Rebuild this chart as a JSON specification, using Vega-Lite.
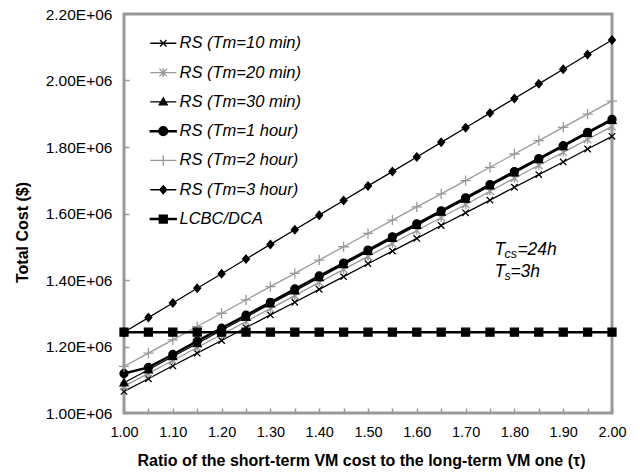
{
  "$schema": "https://vega.github.io/schema/vega-lite/v6.json",
  "width": 488,
  "height": 399,
  "autosize": {"type": "none"},
  "padding": {"left": 124, "top": 14, "right": 28, "bottom": 61},
  "config": {
    "font": "Liberation Sans",
    "view": {"stroke": "#999999", "strokeWidth": 3},
    "axis": {
      "domain": false,
      "grid": false,
      "ticks": true,
      "tickColor": "#999999",
      "tickWidth": 1.5,
      "tickSize": -5,
      "labelFont": "Liberation Sans",
      "labelColor": "#000000",
      "titleFont": "Liberation Sans",
      "titleFontSize": 16,
      "titleFontWeight": "bold",
      "titleColor": "#000000",
      "labelOverlap": false,
      "labelFlush": false,
      "labelBound": false
    }
  },
  "datasets": {
    "costs": [
      {"tau": 1.00, "series": "RS (Tm=10 min)", "cost": 1065000},
      {"tau": 1.05, "series": "RS (Tm=10 min)", "cost": 1103000},
      {"tau": 1.10, "series": "RS (Tm=10 min)", "cost": 1142000},
      {"tau": 1.15, "series": "RS (Tm=10 min)", "cost": 1180000},
      {"tau": 1.20, "series": "RS (Tm=10 min)", "cost": 1218000},
      {"tau": 1.25, "series": "RS (Tm=10 min)", "cost": 1257000},
      {"tau": 1.30, "series": "RS (Tm=10 min)", "cost": 1295000},
      {"tau": 1.35, "series": "RS (Tm=10 min)", "cost": 1333000},
      {"tau": 1.40, "series": "RS (Tm=10 min)", "cost": 1372000},
      {"tau": 1.45, "series": "RS (Tm=10 min)", "cost": 1410000},
      {"tau": 1.50, "series": "RS (Tm=10 min)", "cost": 1449000},
      {"tau": 1.55, "series": "RS (Tm=10 min)", "cost": 1487000},
      {"tau": 1.60, "series": "RS (Tm=10 min)", "cost": 1525000},
      {"tau": 1.65, "series": "RS (Tm=10 min)", "cost": 1564000},
      {"tau": 1.70, "series": "RS (Tm=10 min)", "cost": 1602000},
      {"tau": 1.75, "series": "RS (Tm=10 min)", "cost": 1640000},
      {"tau": 1.80, "series": "RS (Tm=10 min)", "cost": 1679000},
      {"tau": 1.85, "series": "RS (Tm=10 min)", "cost": 1717000},
      {"tau": 1.90, "series": "RS (Tm=10 min)", "cost": 1755000},
      {"tau": 1.95, "series": "RS (Tm=10 min)", "cost": 1794000},
      {"tau": 2.00, "series": "RS (Tm=10 min)", "cost": 1832000},
      {"tau": 1.00, "series": "RS (Tm=20 min)", "cost": 1080000},
      {"tau": 1.05, "series": "RS (Tm=20 min)", "cost": 1119000},
      {"tau": 1.10, "series": "RS (Tm=20 min)", "cost": 1158000},
      {"tau": 1.15, "series": "RS (Tm=20 min)", "cost": 1197000},
      {"tau": 1.20, "series": "RS (Tm=20 min)", "cost": 1236000},
      {"tau": 1.25, "series": "RS (Tm=20 min)", "cost": 1275000},
      {"tau": 1.30, "series": "RS (Tm=20 min)", "cost": 1314000},
      {"tau": 1.35, "series": "RS (Tm=20 min)", "cost": 1353000},
      {"tau": 1.40, "series": "RS (Tm=20 min)", "cost": 1393000},
      {"tau": 1.45, "series": "RS (Tm=20 min)", "cost": 1432000},
      {"tau": 1.50, "series": "RS (Tm=20 min)", "cost": 1471000},
      {"tau": 1.55, "series": "RS (Tm=20 min)", "cost": 1510000},
      {"tau": 1.60, "series": "RS (Tm=20 min)", "cost": 1549000},
      {"tau": 1.65, "series": "RS (Tm=20 min)", "cost": 1588000},
      {"tau": 1.70, "series": "RS (Tm=20 min)", "cost": 1627000},
      {"tau": 1.75, "series": "RS (Tm=20 min)", "cost": 1667000},
      {"tau": 1.80, "series": "RS (Tm=20 min)", "cost": 1706000},
      {"tau": 1.85, "series": "RS (Tm=20 min)", "cost": 1745000},
      {"tau": 1.90, "series": "RS (Tm=20 min)", "cost": 1784000},
      {"tau": 1.95, "series": "RS (Tm=20 min)", "cost": 1823000},
      {"tau": 2.00, "series": "RS (Tm=20 min)", "cost": 1862000},
      {"tau": 1.00, "series": "RS (Tm=30 min)", "cost": 1091000},
      {"tau": 1.05, "series": "RS (Tm=30 min)", "cost": 1130000},
      {"tau": 1.10, "series": "RS (Tm=30 min)", "cost": 1170000},
      {"tau": 1.15, "series": "RS (Tm=30 min)", "cost": 1209000},
      {"tau": 1.20, "series": "RS (Tm=30 min)", "cost": 1249000},
      {"tau": 1.25, "series": "RS (Tm=30 min)", "cost": 1288000},
      {"tau": 1.30, "series": "RS (Tm=30 min)", "cost": 1328000},
      {"tau": 1.35, "series": "RS (Tm=30 min)", "cost": 1367000},
      {"tau": 1.40, "series": "RS (Tm=30 min)", "cost": 1407000},
      {"tau": 1.45, "series": "RS (Tm=30 min)", "cost": 1446000},
      {"tau": 1.50, "series": "RS (Tm=30 min)", "cost": 1486000},
      {"tau": 1.55, "series": "RS (Tm=30 min)", "cost": 1525000},
      {"tau": 1.60, "series": "RS (Tm=30 min)", "cost": 1564000},
      {"tau": 1.65, "series": "RS (Tm=30 min)", "cost": 1604000},
      {"tau": 1.70, "series": "RS (Tm=30 min)", "cost": 1643000},
      {"tau": 1.75, "series": "RS (Tm=30 min)", "cost": 1683000},
      {"tau": 1.80, "series": "RS (Tm=30 min)", "cost": 1722000},
      {"tau": 1.85, "series": "RS (Tm=30 min)", "cost": 1762000},
      {"tau": 1.90, "series": "RS (Tm=30 min)", "cost": 1801000},
      {"tau": 1.95, "series": "RS (Tm=30 min)", "cost": 1841000},
      {"tau": 2.00, "series": "RS (Tm=30 min)", "cost": 1880000},
      {"tau": 1.00, "series": "RS (Tm=1 hour)", "cost": 1119000},
      {"tau": 1.05, "series": "RS (Tm=1 hour)", "cost": 1137000},
      {"tau": 1.10, "series": "RS (Tm=1 hour)", "cost": 1176000},
      {"tau": 1.15, "series": "RS (Tm=1 hour)", "cost": 1216000},
      {"tau": 1.20, "series": "RS (Tm=1 hour)", "cost": 1255000},
      {"tau": 1.25, "series": "RS (Tm=1 hour)", "cost": 1294000},
      {"tau": 1.30, "series": "RS (Tm=1 hour)", "cost": 1333000},
      {"tau": 1.35, "series": "RS (Tm=1 hour)", "cost": 1373000},
      {"tau": 1.40, "series": "RS (Tm=1 hour)", "cost": 1412000},
      {"tau": 1.45, "series": "RS (Tm=1 hour)", "cost": 1451000},
      {"tau": 1.50, "series": "RS (Tm=1 hour)", "cost": 1490000},
      {"tau": 1.55, "series": "RS (Tm=1 hour)", "cost": 1530000},
      {"tau": 1.60, "series": "RS (Tm=1 hour)", "cost": 1569000},
      {"tau": 1.65, "series": "RS (Tm=1 hour)", "cost": 1608000},
      {"tau": 1.70, "series": "RS (Tm=1 hour)", "cost": 1647000},
      {"tau": 1.75, "series": "RS (Tm=1 hour)", "cost": 1687000},
      {"tau": 1.80, "series": "RS (Tm=1 hour)", "cost": 1726000},
      {"tau": 1.85, "series": "RS (Tm=1 hour)", "cost": 1765000},
      {"tau": 1.90, "series": "RS (Tm=1 hour)", "cost": 1804000},
      {"tau": 1.95, "series": "RS (Tm=1 hour)", "cost": 1844000},
      {"tau": 2.00, "series": "RS (Tm=1 hour)", "cost": 1883000},
      {"tau": 1.00, "series": "RS (Tm=2 hour)", "cost": 1140000},
      {"tau": 1.05, "series": "RS (Tm=2 hour)", "cost": 1180000},
      {"tau": 1.10, "series": "RS (Tm=2 hour)", "cost": 1220000},
      {"tau": 1.15, "series": "RS (Tm=2 hour)", "cost": 1260000},
      {"tau": 1.20, "series": "RS (Tm=2 hour)", "cost": 1300000},
      {"tau": 1.25, "series": "RS (Tm=2 hour)", "cost": 1340000},
      {"tau": 1.30, "series": "RS (Tm=2 hour)", "cost": 1380000},
      {"tau": 1.35, "series": "RS (Tm=2 hour)", "cost": 1420000},
      {"tau": 1.40, "series": "RS (Tm=2 hour)", "cost": 1460000},
      {"tau": 1.45, "series": "RS (Tm=2 hour)", "cost": 1500000},
      {"tau": 1.50, "series": "RS (Tm=2 hour)", "cost": 1540000},
      {"tau": 1.55, "series": "RS (Tm=2 hour)", "cost": 1580000},
      {"tau": 1.60, "series": "RS (Tm=2 hour)", "cost": 1620000},
      {"tau": 1.65, "series": "RS (Tm=2 hour)", "cost": 1659000},
      {"tau": 1.70, "series": "RS (Tm=2 hour)", "cost": 1699000},
      {"tau": 1.75, "series": "RS (Tm=2 hour)", "cost": 1739000},
      {"tau": 1.80, "series": "RS (Tm=2 hour)", "cost": 1779000},
      {"tau": 1.85, "series": "RS (Tm=2 hour)", "cost": 1819000},
      {"tau": 1.90, "series": "RS (Tm=2 hour)", "cost": 1859000},
      {"tau": 1.95, "series": "RS (Tm=2 hour)", "cost": 1899000},
      {"tau": 2.00, "series": "RS (Tm=2 hour)", "cost": 1938000},
      {"tau": 1.00, "series": "RS (Tm=3 hour)", "cost": 1243000},
      {"tau": 1.05, "series": "RS (Tm=3 hour)", "cost": 1287000},
      {"tau": 1.10, "series": "RS (Tm=3 hour)", "cost": 1331000},
      {"tau": 1.15, "series": "RS (Tm=3 hour)", "cost": 1375000},
      {"tau": 1.20, "series": "RS (Tm=3 hour)", "cost": 1419000},
      {"tau": 1.25, "series": "RS (Tm=3 hour)", "cost": 1463000},
      {"tau": 1.30, "series": "RS (Tm=3 hour)", "cost": 1507000},
      {"tau": 1.35, "series": "RS (Tm=3 hour)", "cost": 1551000},
      {"tau": 1.40, "series": "RS (Tm=3 hour)", "cost": 1595000},
      {"tau": 1.45, "series": "RS (Tm=3 hour)", "cost": 1639000},
      {"tau": 1.50, "series": "RS (Tm=3 hour)", "cost": 1683000},
      {"tau": 1.55, "series": "RS (Tm=3 hour)", "cost": 1726000},
      {"tau": 1.60, "series": "RS (Tm=3 hour)", "cost": 1770000},
      {"tau": 1.65, "series": "RS (Tm=3 hour)", "cost": 1814000},
      {"tau": 1.70, "series": "RS (Tm=3 hour)", "cost": 1858000},
      {"tau": 1.75, "series": "RS (Tm=3 hour)", "cost": 1902000},
      {"tau": 1.80, "series": "RS (Tm=3 hour)", "cost": 1946000},
      {"tau": 1.85, "series": "RS (Tm=3 hour)", "cost": 1990000},
      {"tau": 1.90, "series": "RS (Tm=3 hour)", "cost": 2034000},
      {"tau": 1.95, "series": "RS (Tm=3 hour)", "cost": 2078000},
      {"tau": 2.00, "series": "RS (Tm=3 hour)", "cost": 2122000},
      {"tau": 1.00, "series": "LCBC/DCA", "cost": 1243000},
      {"tau": 1.05, "series": "LCBC/DCA", "cost": 1243000},
      {"tau": 1.10, "series": "LCBC/DCA", "cost": 1243000},
      {"tau": 1.15, "series": "LCBC/DCA", "cost": 1243000},
      {"tau": 1.20, "series": "LCBC/DCA", "cost": 1243000},
      {"tau": 1.25, "series": "LCBC/DCA", "cost": 1243000},
      {"tau": 1.30, "series": "LCBC/DCA", "cost": 1243000},
      {"tau": 1.35, "series": "LCBC/DCA", "cost": 1243000},
      {"tau": 1.40, "series": "LCBC/DCA", "cost": 1243000},
      {"tau": 1.45, "series": "LCBC/DCA", "cost": 1243000},
      {"tau": 1.50, "series": "LCBC/DCA", "cost": 1243000},
      {"tau": 1.55, "series": "LCBC/DCA", "cost": 1243000},
      {"tau": 1.60, "series": "LCBC/DCA", "cost": 1243000},
      {"tau": 1.65, "series": "LCBC/DCA", "cost": 1243000},
      {"tau": 1.70, "series": "LCBC/DCA", "cost": 1243000},
      {"tau": 1.75, "series": "LCBC/DCA", "cost": 1243000},
      {"tau": 1.80, "series": "LCBC/DCA", "cost": 1243000},
      {"tau": 1.85, "series": "LCBC/DCA", "cost": 1243000},
      {"tau": 1.90, "series": "LCBC/DCA", "cost": 1243000},
      {"tau": 1.95, "series": "LCBC/DCA", "cost": 1243000},
      {"tau": 2.00, "series": "LCBC/DCA", "cost": 1243000}
    ],
    "notes": [
      {"tau": 1.759, "cost": 1475000, "main": "T", "sub": "cs", "rest": "=24h", "line": 1},
      {"tau": 1.759, "cost": 1409000, "main": "T", "sub": "s", "rest": "=3h", "line": 2}
    ]
  },
  "encoding": {
    "x": {
      "field": "tau", "type": "quantitative",
      "scale": {"domain": [1, 2], "nice": false, "zero": false},
      "axis": {
        "title": "Ratio of the short-term VM cost to the long-term VM one (τ)",
        "values": [1, 1.05, 1.1, 1.15, 1.2, 1.25, 1.3, 1.35, 1.4, 1.45, 1.5, 1.55, 1.6, 1.65, 1.7, 1.75, 1.8, 1.85, 1.9, 1.95, 2],
        "labelExpr": "round(datum.value * 100) % 10 == 0 ? format(datum.value, '.2f') : ''",
        "labelFontSize": 14.5,
        "labelPadding": 17,
        "titlePadding": 14,
        "titleX": 237
      }
    },
    "y": {
      "field": "cost", "type": "quantitative",
      "scale": {"domain": [1000000, 2200000], "nice": false, "zero": false},
      "axis": {
        "title": "Total Cost ($)",
        "values": [1000000, 1200000, 1400000, 1600000, 1800000, 2000000, 2200000],
        "labelExpr": "format(datum.value / 1000000, '.2f') + 'E+06'",
        "labelFontSize": 15.5,
        "labelPadding": 17,
        "titlePadding": 15,
        "titleY": 218
      }
    }
  },
  "layer": [
    {
      "data": {"name": "costs"},
      "transform": [{"filter": "datum.series != 'RS (Tm=1 hour)' && datum.series != 'LCBC/DCA'"}],
      "mark": {"type": "line", "strokeWidth": 1.3},
      "encoding": {
        "color": {
          "field": "series", "type": "nominal", "legend": null,
          "scale": {
            "domain": ["RS (Tm=10 min)", "RS (Tm=20 min)", "RS (Tm=30 min)", "RS (Tm=1 hour)", "RS (Tm=2 hour)", "RS (Tm=3 hour)", "LCBC/DCA"],
            "range": ["#000000", "#999999", "#000000", "#000000", "#999999", "#000000", "#000000"]
          }
        }
      }
    },
    {
      "data": {"name": "costs"},
      "transform": [{"filter": "datum.series == 'RS (Tm=1 hour)' || datum.series == 'LCBC/DCA'"}],
      "mark": {"type": "line", "strokeWidth": 2.5},
      "encoding": {
        "color": {
          "field": "series", "type": "nominal", "legend": null,
          "scale": {
            "domain": ["RS (Tm=10 min)", "RS (Tm=20 min)", "RS (Tm=30 min)", "RS (Tm=1 hour)", "RS (Tm=2 hour)", "RS (Tm=3 hour)", "LCBC/DCA"],
            "range": ["#000000", "#999999", "#000000", "#000000", "#999999", "#000000", "#000000"]
          }
        }
      }
    },
    {
      "data": {"name": "costs"},
      "mark": {"type": "point", "filled": true, "size": 64, "strokeWidth": 1.3, "opacity": 1},
      "encoding": {
        "shape": {
          "field": "series", "type": "nominal", "legend": null,
          "scale": {
            "domain": ["RS (Tm=10 min)", "RS (Tm=20 min)", "RS (Tm=30 min)", "RS (Tm=1 hour)", "RS (Tm=2 hour)", "RS (Tm=3 hour)", "LCBC/DCA"],
            "range": [
              "M-0.8,-0.8L0.8,0.8M-0.8,0.8L0.8,-0.8",
              "M0,-1.1L0,1.1M-0.95,-0.95L0.95,0.95M-0.95,0.95L0.95,-0.95",
              "M0,-1L1,0.75L-1,0.75Z",
              "M-1,0A1,1,0,1,1,1,0A1,1,0,1,1,-1,0Z",
              "M-1.3,0L1.3,0M0,-1.3L0,1.3",
              "M0,-1L0.85,0L0,1L-0.85,0Z",
              "M-1,-1L1,-1L1,1L-1,1Z"
            ]
          }
        },
        "fill": {
          "field": "series", "type": "nominal", "legend": null,
          "scale": {
            "domain": ["RS (Tm=10 min)", "RS (Tm=20 min)", "RS (Tm=30 min)", "RS (Tm=1 hour)", "RS (Tm=2 hour)", "RS (Tm=3 hour)", "LCBC/DCA"],
            "range": ["#000000", "#999999", "#000000", "#000000", "#999999", "#000000", "#000000"]
          }
        },
        "stroke": {
          "field": "series", "type": "nominal", "legend": null,
          "scale": {
            "domain": ["RS (Tm=10 min)", "RS (Tm=20 min)", "RS (Tm=30 min)", "RS (Tm=1 hour)", "RS (Tm=2 hour)", "RS (Tm=3 hour)", "LCBC/DCA"],
            "range": ["#000000", "#999999", "#000000", "#000000", "#999999", "#000000", "#000000"]
          }
        }
      }
    },
    {
      "data": {"name": "costs"},
      "mark": {"type": "point", "filled": true, "size": 64, "strokeWidth": 1.3, "opacity": 0},
      "encoding": {
        "shape": {
          "field": "series", "type": "nominal",
          "legend": {"orient": "none", "legendX": 31, "legendY": 21, "title": null, "padding": 0, "labelFont": "Liberation Sans", "labelFontStyle": "italic", "labelFontSize": 16.5, "labelColor": "#000000", "symbolSize": 64, "symbolStrokeWidth": 1.3, "symbolOpacity": 1, "rowPadding": 12.3, "labelOffset": 8},
          "scale": {
            "domain": ["RS (Tm=10 min)", "RS (Tm=20 min)", "RS (Tm=30 min)", "RS (Tm=1 hour)", "RS (Tm=2 hour)", "RS (Tm=3 hour)", "LCBC/DCA"],
            "range": [
              "M-3.25,0L3.25,0M-0.8,-0.8L0.8,0.8M-0.8,0.8L0.8,-0.8",
              "M-3.25,0L3.25,0M0,-1.1L0,1.1M-0.95,-0.95L0.95,0.95M-0.95,0.95L0.95,-0.95",
              "M-3.25,0L3.25,0M0,-1L1,0.75L-1,0.75Z",
              "M-3.25,-0.15L3.25,-0.15L3.25,0.15L-3.25,0.15ZM-1.1,0A1.1,1.1,0,1,1,1.1,0A1.1,1.1,0,1,1,-1.1,0Z",
              "M-3.25,0L3.25,0M0,-1.3L0,1.3",
              "M-3.25,0L3.25,0M0,-1L0.85,0L0,1L-0.85,0Z",
              "M-3.25,-0.15L3.25,-0.15L3.25,0.15L-3.25,0.15ZM-1,-1L1,-1L1,1L-1,1Z"
            ]
          }
        },
        "fill": {
          "field": "series", "type": "nominal",
          "legend": {"orient": "none", "legendX": 31, "legendY": 21, "title": null, "padding": 0, "labelFont": "Liberation Sans", "labelFontStyle": "italic", "labelFontSize": 16.5, "labelColor": "#000000", "symbolSize": 64, "symbolStrokeWidth": 1.3, "symbolOpacity": 1, "rowPadding": 12.3, "labelOffset": 8},
          "scale": {
            "domain": ["RS (Tm=10 min)", "RS (Tm=20 min)", "RS (Tm=30 min)", "RS (Tm=1 hour)", "RS (Tm=2 hour)", "RS (Tm=3 hour)", "LCBC/DCA"],
            "range": ["#000000", "#999999", "#000000", "#000000", "#999999", "#000000", "#000000"]
          }
        },
        "stroke": {
          "field": "series", "type": "nominal",
          "legend": {"orient": "none", "legendX": 31, "legendY": 21, "title": null, "padding": 0, "labelFont": "Liberation Sans", "labelFontStyle": "italic", "labelFontSize": 16.5, "labelColor": "#000000", "symbolSize": 64, "symbolStrokeWidth": 1.3, "symbolOpacity": 1, "rowPadding": 12.3, "labelOffset": 8},
          "scale": {
            "domain": ["RS (Tm=10 min)", "RS (Tm=20 min)", "RS (Tm=30 min)", "RS (Tm=1 hour)", "RS (Tm=2 hour)", "RS (Tm=3 hour)", "LCBC/DCA"],
            "range": ["#000000", "#999999", "#000000", "#000000", "#999999", "#000000", "#000000"]
          }
        }
      }
    },
    {
      "data": {"name": "notes"},
      "mark": {"type": "text", "align": "left", "baseline": "alphabetic", "font": "Liberation Sans", "fontStyle": "italic", "fontSize": 17.5, "color": "#000000"},
      "encoding": {"text": {"field": "main"}}
    },
    {
      "data": {"name": "notes"},
      "mark": {"type": "text", "align": "left", "baseline": "alphabetic", "font": "Liberation Sans", "fontStyle": "italic", "fontSize": 12.5, "color": "#000000", "dx": 10, "dy": 3},
      "encoding": {"text": {"field": "sub"}}
    },
    {
      "data": {"name": "notes"},
      "transform": [{"filter": "datum.line == 1"}],
      "mark": {"type": "text", "align": "left", "baseline": "alphabetic", "font": "Liberation Sans", "fontStyle": "italic", "fontSize": 17.5, "color": "#000000", "dx": 23},
      "encoding": {"text": {"field": "rest"}}
    },
    {
      "data": {"name": "notes"},
      "transform": [{"filter": "datum.line == 2"}],
      "mark": {"type": "text", "align": "left", "baseline": "alphabetic", "font": "Liberation Sans", "fontStyle": "italic", "fontSize": 17.5, "color": "#000000", "dx": 16},
      "encoding": {"text": {"field": "rest"}}
    }
  ],
  "resolve": {"scale": {"color": "independent", "shape": "independent", "fill": "independent", "stroke": "independent"}}
}
